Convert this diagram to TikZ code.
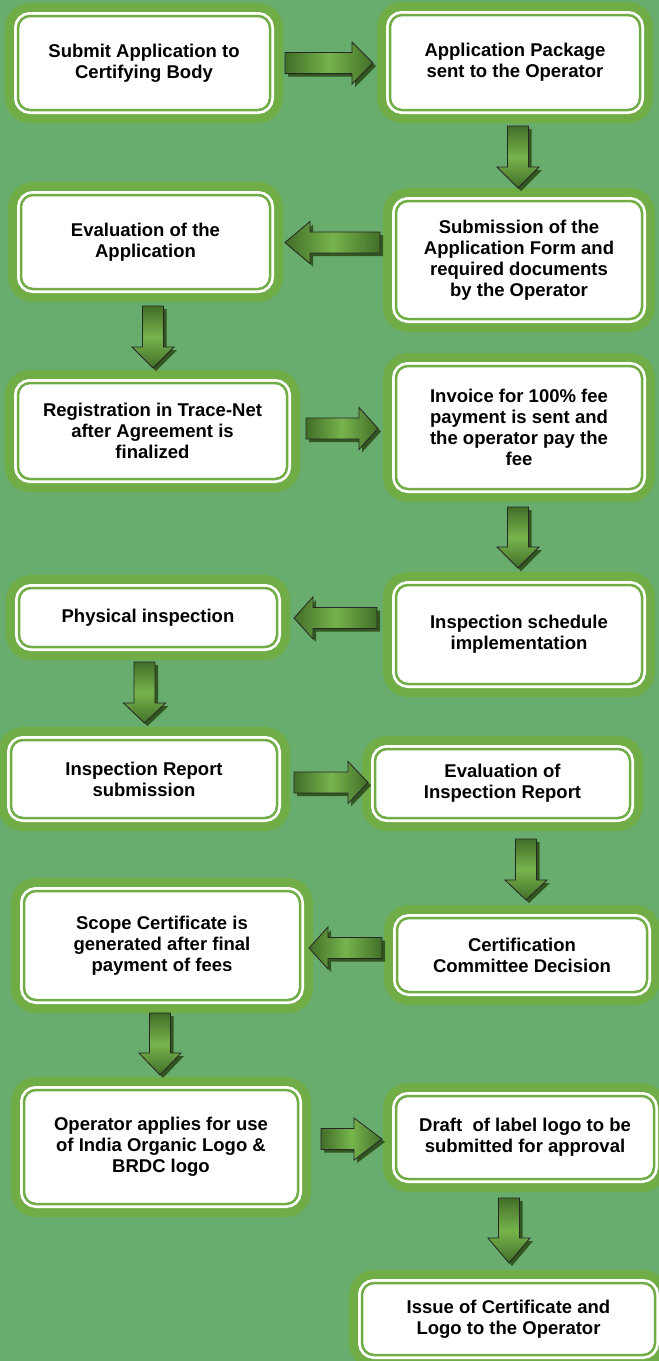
\documentclass[tikz,border=0pt]{standalone}
\usepackage{fontspec}
\setmainfont{Liberation Sans}
\definecolor{bg}{RGB}{104,172,110}
\definecolor{band}{RGB}{112,173,70}
\definecolor{adark}{RGB}{66,110,40}
\definecolor{alight}{RGB}{118,180,76}
\definecolor{ashadow}{RGB}{50,86,32}
\tikzset{
  stepbox/.style={rounded corners=12pt, fill=white, draw=band, line width=2.5pt,
    inner sep=0pt, align=center, text=black,
    font=\fontsize{18.5}{21}\selectfont\bfseries,
    preaction={draw=band, line width=26pt},
    preaction={draw=white, line width=8pt}},
  arrowbody/.style={draw=black!85, line width=0.8pt},
}
% horizontal block arrow: #1 tail x, #2 tip x, #3 centre y, #4 head base x
\newcommand\harrow[4]{%
  \fill[ashadow, shift={(3,3)}] (#1,{#3-10.5}) -- (#4,{#3-10.5}) -- (#4,{#3-21}) -- (#2,#3) -- (#4,{#3+21}) -- (#4,{#3+10.5}) -- (#1,{#3+10.5}) -- cycle;
  \shade[arrowbody, left color=adark, right color=adark, middle color=alight] (#1,{#3-10.5}) -- (#4,{#3-10.5}) -- (#4,{#3-21}) -- (#2,#3) -- (#4,{#3+21}) -- (#4,{#3+10.5}) -- (#1,{#3+10.5}) -- cycle;}
% vertical block arrow: #1 tail y, #2 tip y, #3 centre x, #4 head base y
\newcommand\varrow[4]{%
  \fill[ashadow, shift={(3,3)}] ({#3-10.5},#1) -- ({#3-10.5},#4) -- ({#3-21},#4) -- (#3,#2) -- ({#3+21},#4) -- ({#3+10.5},#4) -- ({#3+10.5},#1) -- cycle;
  \shade[arrowbody, top color=adark, bottom color=adark, middle color=alight] ({#3-10.5},#1) -- ({#3-10.5},#4) -- ({#3-21},#4) -- (#3,#2) -- ({#3+21},#4) -- ({#3+10.5},#4) -- ({#3+10.5},#1) -- cycle;}
\begin{document}
\begin{tikzpicture}[x=1pt,y=-1pt]
\useasboundingbox (0,0) rectangle (659,1361);
\clip (0,0) rectangle (659,1361);
\fill[bg] (0,0) rectangle (659,1361);

\node[stepbox, minimum width=252pt, minimum height=94pt] (b1) at (144,63) {Submit Application to\\Certifying Body};
\node[stepbox, minimum width=250pt, minimum height=95pt] (b2) at (515,62.5) {Application Package\\sent to the Operator};
\node[stepbox, minimum width=249pt, minimum height=94pt] (b3) at (145.5,242) {Evaluation of the\\Application};
\node[stepbox, minimum width=246pt, minimum height=118pt] (b4) at (519,260) {Submission of the\\Application Form and\\required documents\\by the Operator};
\node[stepbox, minimum width=269pt, minimum height=96pt] (b5) at (152.5,431) {Registration in Trace-Net\\after Agreement is\\finalized};
\node[stepbox, minimum width=246pt, minimum height=123pt] (b6) at (519,427.5) {Invoice for 100\% fee\\payment is sent and\\the operator pay the\\fee};
\node[stepbox, minimum width=258pt, minimum height=59pt] (b7) at (148,617.5) {Physical inspection};
\node[stepbox, minimum width=246pt, minimum height=99pt] (b8) at (519,634.5) {Inspection schedule\\implementation};
\node[stepbox, minimum width=266pt, minimum height=78pt] (b9) at (144,779) {Inspection Report\\submission};
\node[stepbox, minimum width=255pt, minimum height=69pt] (b10) at (502.5,783.5) {Evaluation of\\Inspection Report};
\node[stepbox, minimum width=276pt, minimum height=109pt] (b11) at (162,945.5) {Scope Certificate is\\generated after final\\payment of fees};
\node[stepbox, minimum width=250pt, minimum height=74pt] (b12) at (522,955) {Certification\\Committee Decision};
\node[stepbox, minimum width=274pt, minimum height=114pt] (b13) at (161,1147) {Operator applies for use\\of India Organic Logo \&\\BRDC logo};
\node[stepbox, minimum width=258pt, minimum height=83pt] (b14) at (525,1137.5) {Draft\ \ of label logo to be\\submitted for approval};
\node[stepbox, minimum width=293pt, minimum height=72pt] (b15) at (508.5,1319) {Issue of Certificate and\\Logo to the Operator};

\harrow{285}{373}{63}{352}
\varrow{126}{188}{518}{167}
\harrow{380}{285}{242.5}{310}
\varrow{306}{368}{153}{347}
\harrow{306}{378}{428.5}{359}
\varrow{507}{568}{518}{547}
\harrow{377}{294}{618}{313}
\varrow{662}{723}{144.5}{703}
\harrow{294}{368}{782.5}{348}
\varrow{839}{900}{526}{880}
\harrow{382}{309}{948}{328}
\varrow{1013}{1075}{160}{1053}
\harrow{321}{382}{1139}{354}
\varrow{1198}{1263}{509}{1238}
\end{tikzpicture}
\end{document}
